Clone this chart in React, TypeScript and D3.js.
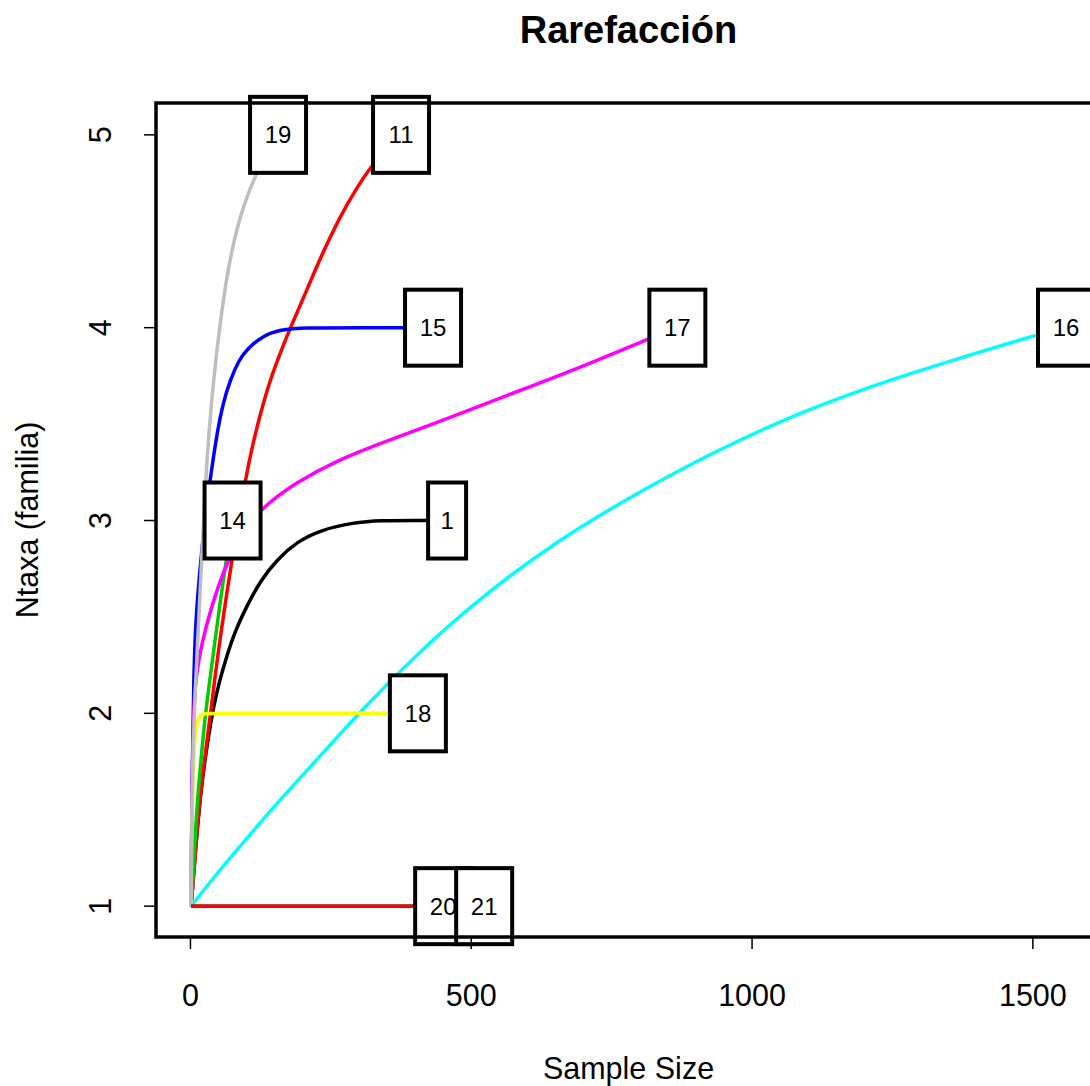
import React from "react";
import * as d3 from "d3";

// Sites (row names) in drawing order, with R's default (old) palette cycling
const sites = ["1", "11", "14", "15", "16", "17", "18", "19", "20", "21"];
const siteColors = ["#000000", "#FF0000", "#00CD00", "#0000FF", "#00FFFF", "#FF00FF", "#FFFF00", "#BEBEBE", "#000000", "#FF0000"];

// Rarefaction curves: [sample size, expected taxa]
const curve1: [number, number][] = [[1, 1], [8, 1.25], [18, 1.6], [33, 1.9], [41, 2.03], [50, 2.15], [66, 2.31], [80, 2.43], [101, 2.56], [125, 2.69], [155, 2.8], [190, 2.89], [231, 2.95], [290, 2.99], [340, 3.0], [400, 3.0], [457, 3.0]];
const curve11: [number, number][] = [[1, 1], [5, 1.12], [12, 1.42], [23, 1.72], [36, 2.0], [48, 2.29], [62, 2.57], [71, 2.74], [89, 3.07], [107, 3.35], [125, 3.56], [142, 3.73], [160, 3.87], [178, 4.0], [208, 4.2], [231, 4.36], [267, 4.58], [295, 4.72], [320, 4.83], [350, 4.93], [375, 5]];
const curve14: [number, number][] = [[1, 1], [5, 1.15], [9, 1.42], [18, 1.74], [27, 2.01], [39, 2.27], [53, 2.58], [62, 2.76], [75, 3]];
const curve15: [number, number][] = [[1, 1], [3, 1.7], [6, 2.2], [9, 2.45], [14, 2.65], [21, 2.87], [28, 3.06], [36, 3.23], [47, 3.45], [59, 3.62], [71, 3.73], [86, 3.83], [101, 3.89], [130, 3.96], [160, 3.99], [200, 4.0], [300, 4.0], [432, 4.0]];
const curve16: [number, number][] = [[1, 1], [50, 1.18], [100, 1.35], [150, 1.52], [200, 1.68], [250, 1.84], [300, 2.0], [400, 2.3], [516, 2.6], [655, 2.9], [794, 3.14], [931, 3.355], [1069, 3.54], [1208, 3.693], [1347, 3.822], [1505, 3.962], [1559, 4]];
const curve17: [number, number][] = [[1, 1], [3, 1.6], [5, 2.0], [10, 2.2], [20, 2.36], [35, 2.53], [60, 2.75], [90, 2.93], [128, 3.07], [190, 3.2], [260, 3.31], [338, 3.4], [450, 3.52], [552, 3.636], [700, 3.8], [813, 3.94], [867, 4]];
const curve18: [number, number][] = [[1, 1], [2, 1.35], [4, 1.65], [7, 1.85], [12, 1.97], [20, 2.0], [40, 2.0], [405, 2]];
const curve19: [number, number][] = [[1, 1], [3, 1.6], [6, 1.95], [10, 2.2], [15, 2.5], [20, 2.8], [25, 3.1], [32, 3.43], [41, 3.73], [55, 4.08], [71, 4.38], [95, 4.65], [125, 4.85], [156, 5]];
const curve20: [number, number][] = [[1, 1], [450, 1]];
const curve21: [number, number][] = [[1, 1], [523, 1]];
const curves = [curve1, curve11, curve14, curve15, curve16, curve17, curve18, curve19, curve20, curve21];

const xTicks = [0, 500, 1000, 1500];
const yTicks = [1, 2, 3, 4, 5];
const title = "Rarefacción";
const xTitle = "Sample Size";
const yTitle = "Ntaxa (familia)";

const W = 1090;
const H = 1086;
const FONT = "'Liberation Sans', Arial, sans-serif";

export default function App() {
  const nMin = 1;
  const nMax = d3.max(curves, (c) => d3.max(c, (p) => p[0]))!;
  const xr = nMax - nMin;
  const x = d3.scaleLinear().domain([nMin - 0.04 * xr, nMax + 0.04 * xr]).range([156, 1101]);
  const y = d3.scaleLinear().domain([0.84, 5.16]).range([937, 104]);
  const line = d3
    .line<[number, number]>()
    .x((d) => x(d[0]))
    .y((d) => y(d[1]))
    .curve(d3.curveBasis);

  const left = 156;
  const top = 103;
  const bottom = 937;
  const right = 1101;
  const cx = (left + right) / 2;

  return (
    <svg width={W} height={H} style={{ position: "absolute", left: 0, top: 0, background: "#fff" }} fontFamily={FONT}>
      <rect x={0} y={0} width={W} height={H} fill="#fff" />
      {curves.map((c, i) => (
        <path key={"c" + i} d={line(c) || ""} fill="none" stroke={siteColors[i]} strokeWidth={3.5} strokeLinejoin="round" />
      ))}
      {curves.map((c, i) => {
        const last = c[c.length - 1];
        const px = x(last[0]);
        const py = y(last[1]);
        const label = sites[i];
        const bw = 20 + 18 * label.length;
        const bh = 76;
        return (
          <g key={"l" + i}>
            <rect x={px - bw / 2} y={py - bh / 2} width={bw} height={bh} fill="#fff" stroke="#000" strokeWidth={4} />
            <text x={px} y={py} textAnchor="middle" dominantBaseline="central" fontSize={24} fill="#000">
              {label}
            </text>
          </g>
        );
      })}
      {/* plot frame */}
      <rect x={left} y={top} width={right - left} height={bottom - top} fill="none" stroke="#000" strokeWidth={3.5} />
      {/* x axis */}
      <line x1={x(xTicks[0])} x2={x(xTicks[xTicks.length - 1])} y1={bottom} y2={bottom} stroke="#000" strokeWidth={1.5} />
      {xTicks.map((t) => (
        <g key={"xt" + t}>
          <line x1={x(t)} x2={x(t)} y1={bottom} y2={bottom + 12} stroke="#000" strokeWidth={1.5} />
          <text x={x(t)} y={1006} textAnchor="middle" fontSize={30.5} fill="#000">
            {t}
          </text>
        </g>
      ))}
      {/* y axis */}
      {yTicks.map((t) => (
        <g key={"yt" + t}>
          <line x1={left - 12} x2={left} y1={y(t)} y2={y(t)} stroke="#000" strokeWidth={1.5} />
          <text transform={`translate(111,${y(t)}) rotate(-90)`} textAnchor="middle" fontSize={30.5} fill="#000">
            {t}
          </text>
        </g>
      ))}
      <text x={cx} y={43} textAnchor="middle" fontSize={38} fontWeight="bold" fill="#000">
        {title}
      </text>
      <text x={cx} y={1079} textAnchor="middle" fontSize={30.5} fill="#000">
        {xTitle}
      </text>
      <text transform={`translate(38,${(top + bottom) / 2}) rotate(-90)`} textAnchor="middle" fontSize={30.5} fill="#000">
        {yTitle}
      </text>
    </svg>
  );
}
